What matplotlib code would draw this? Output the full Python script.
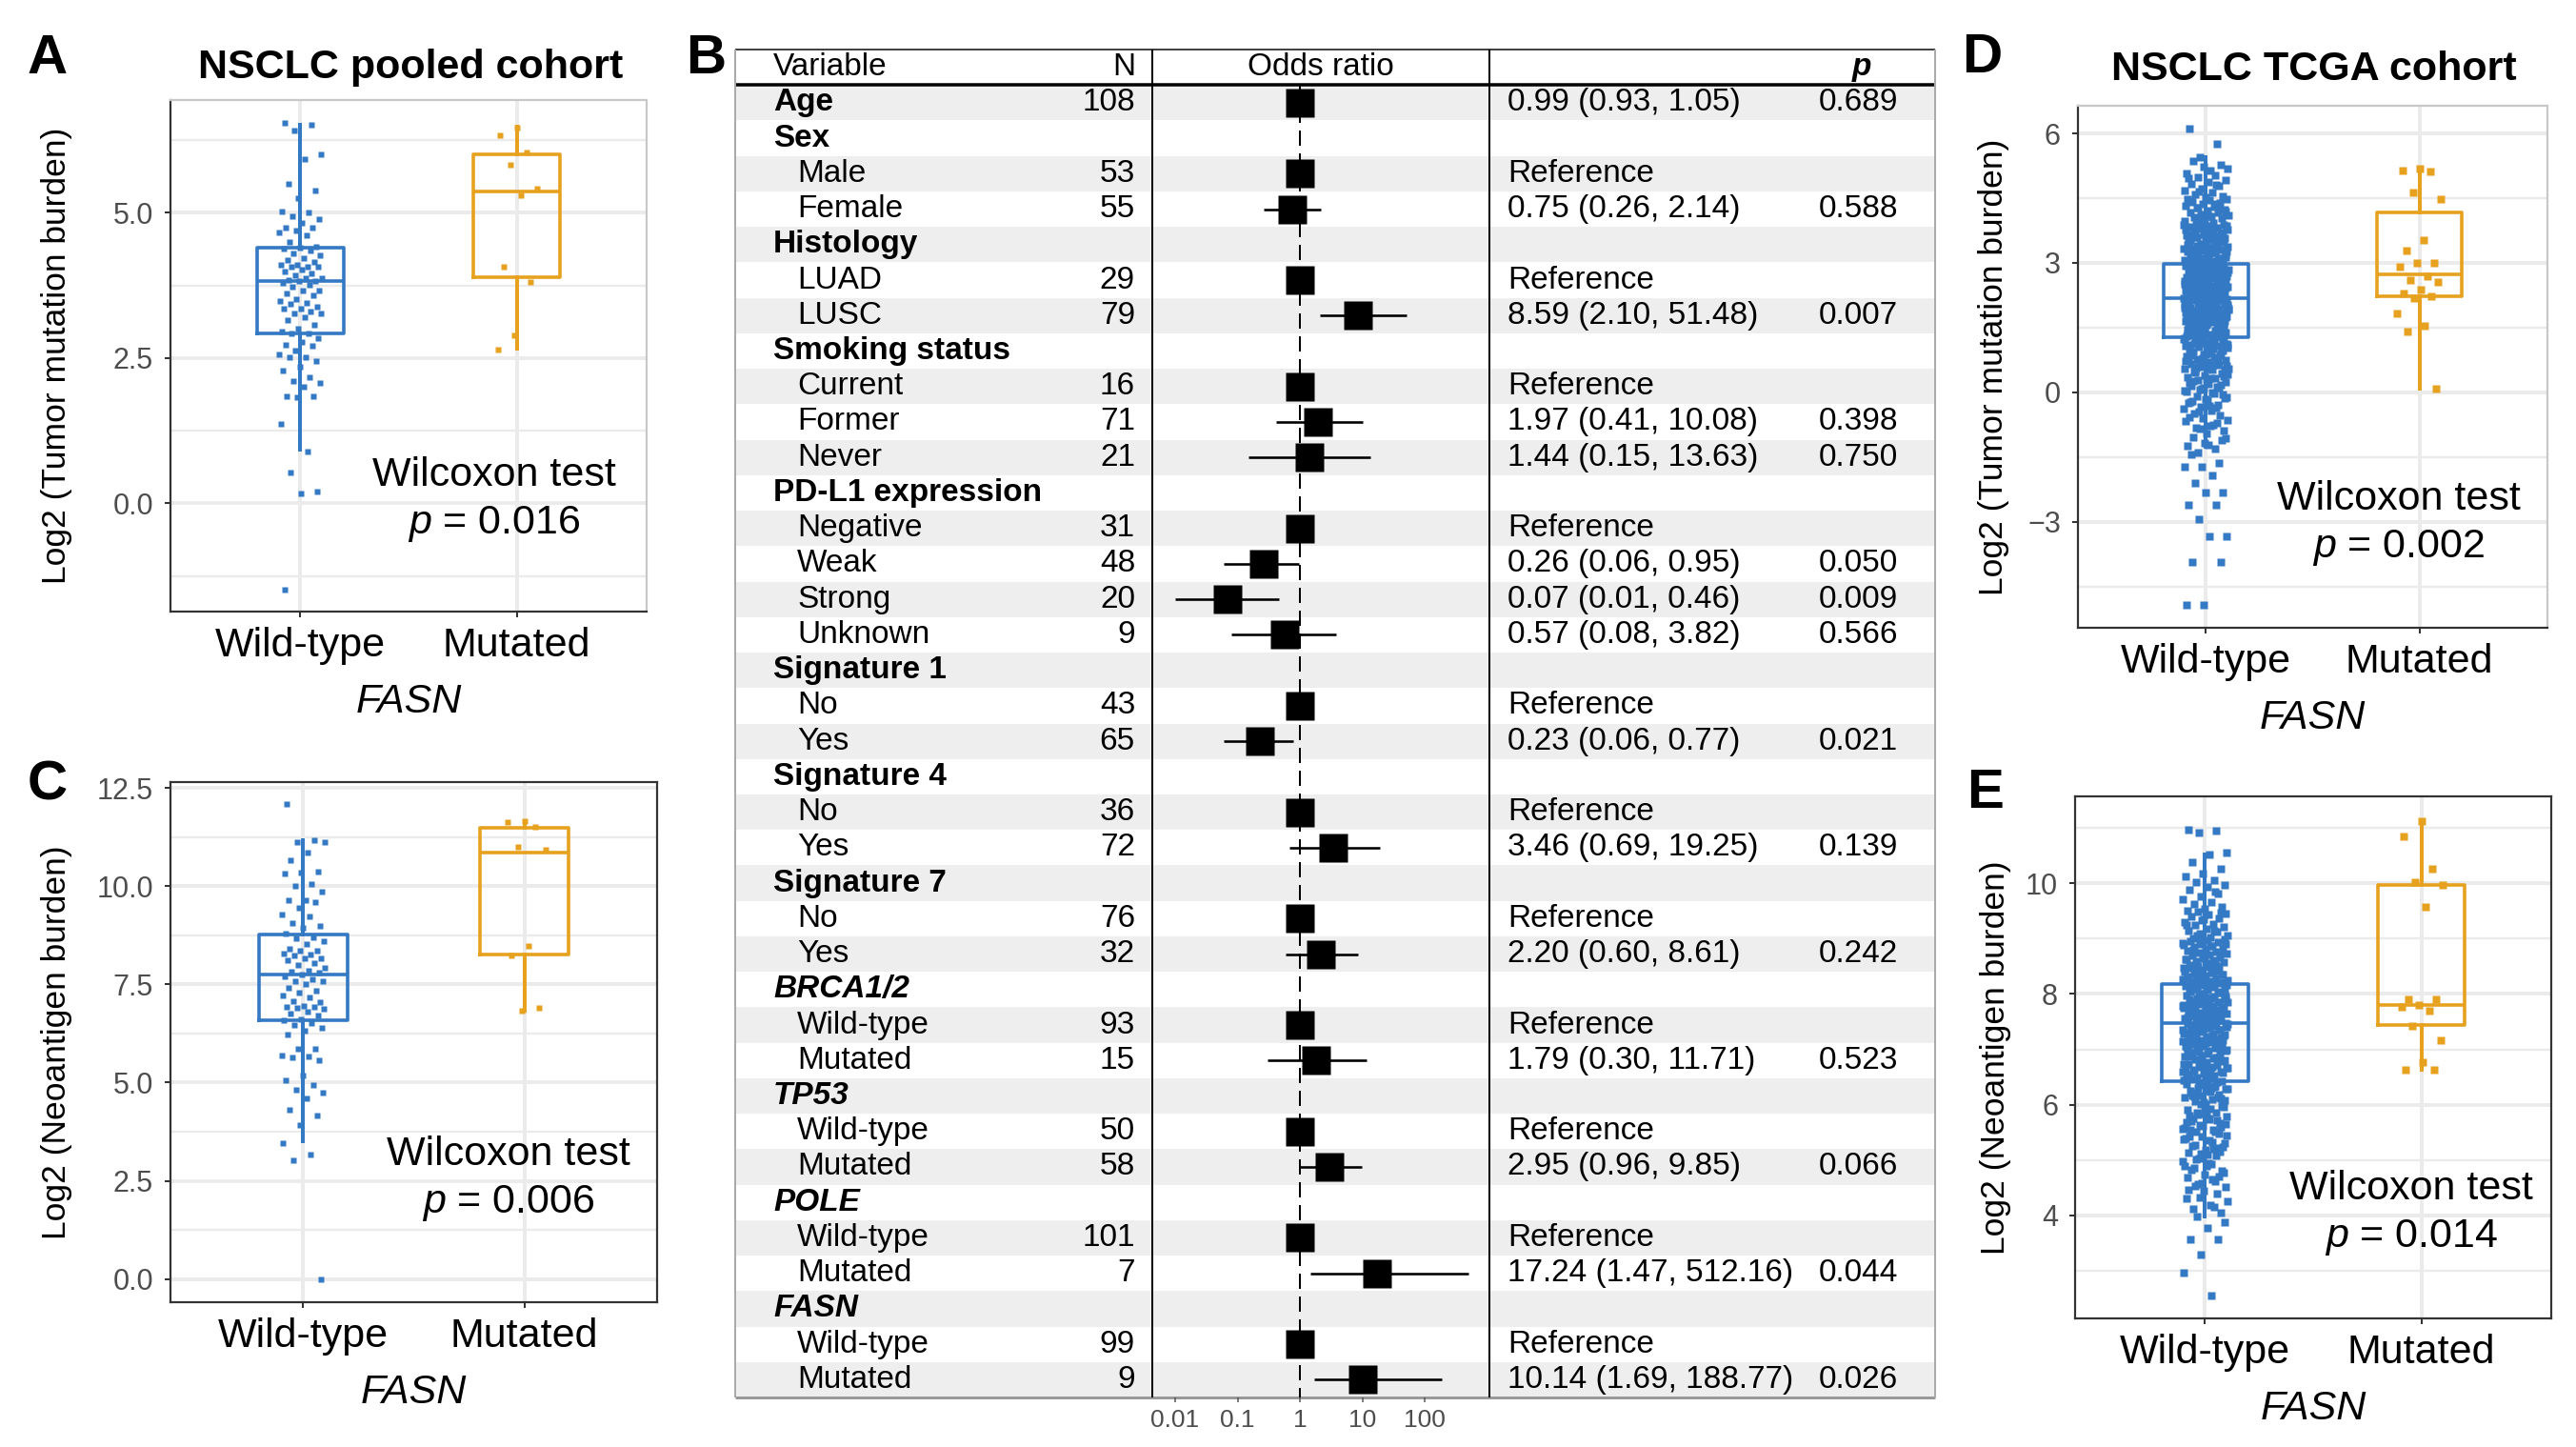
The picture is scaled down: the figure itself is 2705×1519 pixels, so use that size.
import numpy as np
import matplotlib.pyplot as plt
from matplotlib.patches import Rectangle

plt.rcParams['font.family'] = ['Liberation Sans', 'DejaVu Sans']
plt.rcParams['mathtext.fontset'] = 'custom'
plt.rcParams['mathtext.rm'] = 'Liberation Sans'
plt.rcParams['mathtext.it'] = 'Liberation Sans:italic'

W, H, DPI = 2705, 1519, 100
PT = 72 / DPI   # points per pixel

BLUE = '#3479c4'
ORANGE = '#e6a11f'
GRID = '#ebebeb'
TICKGREY = '#4d4d4d'

groups = ['Wild-type', 'Mutated']

# ---------------- panel A : pooled cohort, log2 TMB
a_wt = [6.54, 6.52, 6.41, 6.01, 5.92, 5.50, 5.38, 5.26, 5.02, 5.00, 4.94, 4.89, 4.82,
        4.74, 4.74, 4.70, 4.66, 4.62, 4.50, 4.42, 4.40, 4.38, 4.35, 4.30, 4.27, 4.22,
        4.18, 4.15, 4.11, 4.11, 4.08, 4.07, 4.07, 4.03, 3.99, 3.95, 3.92, 3.88, 3.87,
        3.85, 3.83, 3.83, 3.80, 3.76, 3.72, 3.67, 3.67, 3.62, 3.58, 3.52, 3.48, 3.45,
        3.43, 3.39, 3.35, 3.35, 3.31, 3.27, 3.27, 3.20, 3.15, 3.08, 3.00, 2.95, 2.92,
        2.92, 2.85, 2.78, 2.73, 2.71, 2.63, 2.56, 2.52, 2.51, 2.45, 2.35, 2.28, 2.17,
        2.11, 2.07, 2.01, 1.85, 1.85, 1.83, 1.37, 0.89, 0.53, 0.21, 0.17, -1.49]
a_mut = [6.46, 6.33, 6.04, 5.82, 5.42, 5.30, 4.08, 3.81, 2.89, 2.65]
# whislo, q1, median, q3, whishi
a_box = [(0.92, 2.93, 3.83, 4.40, 6.52), (2.66, 3.90, 5.37, 6.00, 6.48)]

# ---------------- panel C : pooled cohort, log2 neoantigen burden
c_wt = [12.10, 11.18, 11.12, 11.12, 10.86, 10.67, 10.38, 10.35, 10.32, 10.06, 10.00,
        9.86, 9.65, 9.65, 9.59, 9.45, 9.29, 9.23, 9.06, 9.00, 8.94, 8.80, 8.70, 8.68,
        8.60, 8.52, 8.41, 8.37, 8.35, 8.29, 8.25, 8.23, 8.17, 8.17, 8.11, 8.05, 7.99,
        7.92, 7.85, 7.82, 7.79, 7.76, 7.70, 7.64, 7.58, 7.58, 7.50, 7.42, 7.35, 7.29,
        7.22, 7.17, 7.08, 7.05, 6.96, 6.93, 6.93, 6.91, 6.88, 6.80, 6.76, 6.70, 6.62,
        6.58, 6.52, 6.46, 6.40, 6.32, 6.23, 5.87, 5.85, 5.70, 5.67, 5.64, 5.58, 5.19,
        5.05, 4.93, 4.81, 4.75, 4.60, 4.32, 4.16, 3.93, 3.46, 3.16, 3.02, 0.00]
c_mut = [11.65, 11.63, 11.51, 11.00, 10.92, 8.49, 8.23, 6.91, 6.82]
c_box = [(3.51, 6.58, 7.76, 8.76, 11.18), (6.82, 8.25, 10.86, 11.49, 11.65)]

# ---------------- panel D : TCGA cohort, log2 TMB
d_wt_text = """
6.10 5.75 5.45 5.18 5.15 5.35 5.28 5.22 5.08 5.02
4.98 4.93 4.88 4.84 4.79 4.72 4.68 4.63 4.59 4.55 4.52 4.96 4.81 4.66
4.48 4.45 4.42 4.39 4.36 4.33 4.31 4.27 4.24 4.22 4.18 4.16 4.13 4.11 4.08 4.05 4.03 4.01
4.47 4.37 4.29 4.19 4.09 4.44 4.26
3.98 3.96 3.93 3.91 3.89 3.86 3.84 3.81 3.79 3.77 3.74 3.72 3.69 3.67 3.65 3.62 3.60 3.58
3.55 3.53 3.51 3.97 3.88 3.82 3.76 3.70 3.64 3.57 3.52 3.94 3.85 3.73 3.63 3.54 3.90 3.78
3.66 3.59
3.49 3.47 3.44 3.42 3.40 3.38 3.35 3.33 3.31 3.28 3.26 3.24 3.21 3.19 3.17 3.14 3.12 3.10
3.07 3.05 3.03 3.01 3.48 3.43 3.37 3.32 3.27 3.22 3.16 3.11 3.06 3.02 3.46 3.39 3.30 3.23
3.15 3.08 3.45 3.34 3.25 3.18 3.09 3.04 3.41 3.29 3.20 3.13 3.00
2.99 2.97 2.95 2.93 2.91 2.89 2.87 2.85 2.83 2.81 2.79 2.77 2.75 2.73 2.71 2.69 2.67 2.65
2.63 2.61 2.59 2.57 2.55 2.53 2.51 2.98 2.94 2.90 2.86 2.82 2.78 2.74 2.70 2.66 2.62 2.58
2.54 2.50 2.96 2.88 2.80 2.72 2.64 2.56 2.92 2.84 2.76 2.68 2.60 2.52 2.97 2.85 2.73 2.61
2.55 2.90 2.78 2.66 2.58 2.95 2.81 2.69 2.63 2.87
2.49 2.47 2.45 2.43 2.41 2.39 2.37 2.35 2.33 2.31 2.29 2.27 2.25 2.23 2.21 2.19 2.17 2.15
2.13 2.11 2.09 2.07 2.05 2.03 2.01 2.48 2.44 2.40 2.36 2.32 2.28 2.24 2.20 2.16 2.12 2.08
2.04 2.00 2.46 2.38 2.30 2.22 2.14 2.06 2.42 2.34 2.26 2.18 2.10 2.02 2.47 2.35 2.23 2.11
2.05 2.40 2.28 2.16 2.08 2.45 2.31 2.19 2.13 2.37 2.25 2.03
1.99 1.97 1.95 1.93 1.91 1.89 1.87 1.85 1.83 1.81 1.79 1.77 1.75 1.73 1.71 1.69 1.67 1.65
1.63 1.61 1.59 1.57 1.55 1.53 1.51 1.98 1.94 1.90 1.86 1.82 1.78 1.74 1.70 1.66 1.62 1.58
1.54 1.50 1.96 1.88 1.80 1.72 1.64 1.56 1.92 1.84 1.76 1.68 1.60 1.52 1.97 1.85 1.73 1.61
1.55 1.90 1.78 1.66 1.58 1.95 1.81 1.69 1.63
1.49 1.46 1.43 1.41 1.38 1.35 1.33 1.30 1.27 1.25 1.22 1.19 1.17 1.14 1.11 1.09 1.06 1.03
1.01 1.48 1.42 1.36 1.29 1.23 1.16 1.10 1.04 1.45 1.39 1.31 1.24 1.18 1.12 1.05 1.47 1.37
1.28 1.20 1.13 1.07 1.44 1.32 1.21 1.08 1.02 1.40 1.26 1.15 1.00 1.34 1.24 1.11
0.98 0.95 0.91 0.88 0.84 0.81 0.77 0.74 0.70 0.67 0.63 0.60 0.56 0.53 0.51 0.97 0.89 0.82
0.75 0.68 0.61 0.54 0.93 0.86 0.79 0.72 0.65 0.58 0.52 0.96 0.85 0.76 0.64 0.55 0.90
0.48 0.44 0.40 0.36 0.32 0.28 0.24 0.20 0.16 0.12 0.08 0.04 0.01 0.46 0.38 0.30 0.22 0.14
0.06 0.42 0.34 0.26 0.18 0.10 0.02
-0.03 -0.08 -0.13 -0.18 -0.23 -0.28 -0.33 -0.38 -0.43 -0.48 -0.05 -0.15 -0.25 -0.35 -0.45
-0.10 -0.30 -0.20
-0.53 -0.60 -0.67 -0.74 -0.81 -0.88 -0.95 -0.57 -0.71 -0.85 -0.64 -0.78
-1.03 -1.10 -1.17 -1.24 -1.31 -1.38 -1.07 -1.21
-1.43 -1.63 -1.72 -1.72 -1.91 -2.10 -2.32 -2.32 -2.60 -2.60 -2.94 -3.33 -3.33 -3.92 -3.92
-4.93 -4.93
"""
d_wt = [float(v) for v in d_wt_text.split()]
d_mut = [5.18, 5.15, 5.12, 4.63, 4.48, 3.54, 3.28, 3.00, 3.00, 2.92, 2.69, 2.61, 2.56,
         2.39, 2.30, 2.22, 2.19, 1.83, 1.55, 1.41, 0.09]
d_box = [(-1.25, 1.28, 2.18, 2.97, 5.45), (0.09, 2.23, 2.74, 4.18, 5.18)]

# ---------------- panel E : TCGA cohort, log2 neoantigen burden
e_wt_text = """
10.97 10.95 10.92 10.55 10.52
10.38 10.27 10.18 10.12 10.06 10.02
9.97 9.93 9.88 9.82 9.77 9.71 9.66 9.62 9.58 9.54 9.51 9.85
9.49 9.46 9.43 9.40 9.37 9.33 9.30 9.27 9.24 9.21 9.18 9.15 9.12 9.09 9.06 9.03 9.01
9.47 9.35 9.25 9.14 9.05
8.99 8.97 8.95 8.93 8.91 8.89 8.87 8.85 8.83 8.81 8.79 8.77 8.75 8.73 8.71 8.69 8.67 8.65
8.63 8.61 8.59 8.57 8.55 8.53 8.51 8.98 8.92 8.86 8.80 8.74 8.68 8.62 8.56 8.50 8.90
8.49 8.47 8.45 8.43 8.41 8.39 8.37 8.35 8.33 8.31 8.29 8.27 8.25 8.23 8.21 8.19 8.17 8.15
8.13 8.11 8.09 8.07 8.05 8.03 8.01 8.48 8.44 8.40 8.36 8.32 8.28 8.24 8.20 8.16 8.12 8.08
8.04 8.00 8.46 8.38 8.30 8.22 8.14 8.06 8.42 8.34 8.26 8.18 8.10 8.02
7.99 7.97 7.95 7.93 7.91 7.89 7.87 7.85 7.83 7.81 7.79 7.77 7.75 7.73 7.71 7.69 7.67 7.65
7.63 7.61 7.59 7.57 7.55 7.53 7.51 7.98 7.94 7.90 7.86 7.82 7.78 7.74 7.70 7.66 7.62 7.58
7.54 7.50 7.96 7.88 7.80 7.72 7.64 7.56 7.92 7.84 7.76 7.68 7.60 7.52 7.97 7.85 7.73 7.61
7.55 7.90 7.78 7.66 7.58 7.95 7.81 7.69 7.63 7.87 7.75 7.53 7.83 7.71
7.49 7.47 7.45 7.43 7.41 7.39 7.37 7.35 7.33 7.31 7.29 7.27 7.25 7.23 7.21 7.19 7.17 7.15
7.13 7.11 7.09 7.07 7.05 7.03 7.01 7.48 7.44 7.40 7.36 7.32 7.28 7.24 7.20 7.16 7.12 7.08
7.04 7.00 7.46 7.38 7.30 7.22 7.14 7.06 7.42 7.34 7.26 7.18 7.10 7.02 7.47 7.35 7.23 7.11
7.05 7.40 7.28 7.16 7.08
6.99 6.97 6.94 6.92 6.89 6.87 6.84 6.82 6.79 6.77 6.74 6.72 6.69 6.67 6.64 6.62 6.59 6.57
6.54 6.52 6.50 6.98 6.93 6.88 6.83 6.78 6.73 6.68 6.63 6.58 6.53 6.96 6.86 6.76 6.66 6.56
6.91 6.81 6.71 6.61 6.51 6.95 6.80 6.65 6.55 6.85 6.70 6.60
6.49 6.46 6.43 6.40 6.37 6.34 6.31 6.28 6.25 6.22 6.19 6.16 6.13 6.10 6.07 6.04 6.01 6.47
6.41 6.35 6.29 6.23 6.17 6.11 6.05 6.44 6.32 6.20 6.08 6.38 6.26 6.14 6.02 6.45 6.30 6.15
5.98 5.94 5.90 5.86 5.82 5.78 5.74 5.70 5.66 5.62 5.58 5.54 5.51 5.96 5.88 5.80 5.72 5.64
5.56 5.92 5.76 5.60 5.84 5.68 5.52 5.85 5.65 5.75 5.55
5.48 5.43 5.38 5.33 5.28 5.23 5.18 5.13 5.08 5.03 5.45 5.35 5.25 5.15 5.05 5.40 5.20 5.01
5.30 5.10 5.42 5.22 5.12
4.98 4.92 4.86 4.80 4.74 4.68 4.62 4.56 4.51 4.95 4.83 4.71 4.59 4.89 4.65 4.53 4.77 4.90
4.47 4.40 4.33 4.26 4.19 4.12 4.05 4.44 4.30 4.15
3.98 3.88 3.77 3.56 3.56 3.29 2.97 2.55
"""
e_wt = [float(v) for v in e_wt_text.split()]
e_mut = [11.13, 10.85, 10.27, 10.02, 9.97, 9.57, 7.91, 7.91, 7.80, 7.76, 7.69, 7.42,
         7.17, 6.77, 6.63, 6.63]
e_box = [(3.98, 6.43, 7.48, 8.18, 10.52), (6.63, 7.44, 7.80, 9.97, 11.13)]

# ---------------- panel B : multivariable logistic regression
row_labels = ['Age', 'Sex', 'Male', 'Female', 'Histology', 'LUAD', 'LUSC', 'Smoking status',
              'Current', 'Former', 'Never', 'PD-L1 expression', 'Negative', 'Weak', 'Strong',
              'Unknown', 'Signature 1', 'No', 'Yes', 'Signature 4', 'No', 'Yes', 'Signature 7',
              'No', 'Yes', 'BRCA1/2', 'Wild-type', 'Mutated', 'TP53', 'Wild-type', 'Mutated',
              'POLE', 'Wild-type', 'Mutated', 'FASN', 'Wild-type', 'Mutated']
row_kind = ['head', 'head', 'sub', 'sub', 'head', 'sub', 'sub', 'head', 'sub', 'sub', 'sub',
            'head', 'sub', 'sub', 'sub', 'sub', 'head', 'sub', 'sub', 'head', 'sub', 'sub',
            'head', 'sub', 'sub', 'gene', 'sub', 'sub', 'gene', 'sub', 'sub', 'gene', 'sub',
            'sub', 'gene', 'sub', 'sub']
n_obs = [108, None, 53, 55, None, 29, 79, None, 16, 71, 21, None, 31, 48, 20, 9, None, 43, 65,
         None, 36, 72, None, 76, 32, None, 93, 15, None, 50, 58, None, 101, 7, None, 99, 9]
nan = np.nan
odds = [0.99, nan, 1, 0.75, nan, 1, 8.59, nan, 1, 1.97, 1.44, nan, 1, 0.26, 0.07, 0.57, nan,
        1, 0.23, nan, 1, 3.46, nan, 1, 2.20, nan, 1, 1.79, nan, 1, 2.95, nan, 1, 17.24, nan,
        1, 10.14]
ci_low = [0.93, nan, nan, 0.26, nan, nan, 2.10, nan, nan, 0.41, 0.15, nan, nan, 0.06, 0.01,
          0.08, nan, nan, 0.06, nan, nan, 0.69, nan, nan, 0.60, nan, nan, 0.30, nan, nan,
          0.96, nan, nan, 1.47, nan, nan, 1.69]
ci_high = [1.05, nan, nan, 2.14, nan, nan, 51.48, nan, nan, 10.08, 13.63, nan, nan, 0.95,
           0.46, 3.82, nan, nan, 0.77, nan, nan, 19.25, nan, nan, 8.61, nan, nan, 11.71, nan,
           nan, 9.85, nan, nan, 512.16, nan, nan, 188.77]
p_text = ['0.689', '', '', '0.588', '', '', '0.007', '', '', '0.398', '0.750', '', '',
          '0.050', '0.009', '0.566', '', '', '0.021', '', '', '0.139', '', '', '0.242', '',
          '', '0.523', '', '', '0.066', '', '', '0.044', '', '', '0.026']
or_ticks = [0.01, 0.1, 1, 10, 100]
or_ticklabels = ['0.01', '0.1', '1', '10', '100']


def rect_px(l, t, r, b):
    return [l / W, 1 - b / H, (r - l) / W, (b - t) / H]


def jitter(n, width, phase):
    k = np.arange(n)
    return ((k * 0.6180339887 + phase) % 1.0 - 0.5) * 2 * width


def fig_text(x, y, s, **kw):
    fig.text(x / W, 1 - y / H, s, **kw)


def box_panel(ax, wt, mut, stats, ylim, major, minor, labels, light_frame, ms, jw):
    ax.set_xlim(0.4, 2.6)
    ax.set_ylim(*ylim)
    for y in minor:
        ax.axhline(y, color=GRID, lw=2.4 * PT, zorder=0)
    for y in major:
        ax.axhline(y, color=GRID, lw=4 * PT, zorder=0)
    for x in (1, 2):
        ax.axvline(x, color=GRID, lw=4 * PT, zorder=0)
    colors = [BLUE, ORANGE]
    for i, (s, c) in enumerate(zip(stats, colors)):
        st = dict(whislo=s[0], q1=s[1], med=s[2], q3=s[3], whishi=s[4], fliers=[])
        ax.bxp([st], positions=[i + 1], widths=0.4, showfliers=False, showcaps=False,
               boxprops=dict(color=c, lw=3.6 * PT), medianprops=dict(color=c, lw=3.6 * PT),
               whiskerprops=dict(color=c, lw=4 * PT), manage_ticks=False, zorder=2)
    for i, (vals, c) in enumerate(zip([wt, mut], colors)):
        vals = np.asarray(vals)
        xs = i + 1 + jitter(len(vals), jw, 0.13 + 0.37 * i)
        ax.plot(xs, vals, 's', color=c, ms=ms, mec='none', zorder=3)
    ax.set_yticks(major)
    ax.set_yticklabels(labels)
    ax.set_xticks([1, 2])
    ax.set_xticklabels(groups)
    ax.tick_params(axis='y', labelsize=22, labelcolor=TICKGREY, length=6 * PT,
                   width=2 * PT, color='#333333', pad=12 * PT)
    ax.tick_params(axis='x', labelsize=31, labelcolor='black', length=6 * PT,
                   width=2 * PT, color='#333333', pad=10 * PT)
    ax.set_xlabel('FASN', style='italic', fontsize=31, labelpad=19 * PT)
    for side in ('left', 'bottom', 'top', 'right'):
        ax.spines[side].set_linewidth(2.2 * PT)
        ax.spines[side].set_color('#333333')
    if light_frame:
        ax.spines['top'].set_color('#c8c8c8')
        ax.spines['right'].set_color('#c8c8c8')


fig = plt.figure(figsize=(W / DPI, H / DPI), dpi=DPI)

# ---- A
axA = fig.add_axes(rect_px(179, 105, 679, 642))
box_panel(axA, a_wt, a_mut, a_box, (-1.86, 6.94), [0, 2.5, 5.0], [-1.25, 1.25, 3.75, 6.25],
          ['0.0', '2.5', '5.0'], True, 3.9, 0.1)
# ---- C
axC = fig.add_axes(rect_px(179, 821, 690, 1367))
box_panel(axC, c_wt, c_mut, c_box, (-0.59, 12.65), [0, 2.5, 5.0, 7.5, 10.0, 12.5],
          [1.25, 3.75, 6.25, 8.75, 11.25], ['0.0', '2.5', '5.0', '7.5', '10.0', '12.5'],
          False, 3.9, 0.1)
# ---- D
axD = fig.add_axes(rect_px(2182, 111, 2675, 659))
box_panel(axD, d_wt, d_mut, d_box, (-5.45, 6.64), [-3, 0, 3, 6], [-4.5, -1.5, 1.5, 4.5],
          ['\u22123', '0', '3', '6'], True, 5.2, 0.105)
# ---- E
axE = fig.add_axes(rect_px(2179, 836, 2679, 1384))
box_panel(axE, e_wt, e_mut, e_box, (2.14, 11.57), [4, 6, 8, 10], [3, 5, 7, 9, 11],
          ['4', '6', '8', '10'], False, 5.2, 0.105)

# y labels, titles, Wilcoxon annotations
fig_text(60, 373, 'Log2 (Tumor mutation burden)', rotation=90, ha='center', va='center', fontsize=25.5)
fig_text(60, 1094, 'Log2 (Neoantigen burden)', rotation=90, ha='center', va='center', fontsize=25.5)
fig_text(2093, 385, 'Log2 (Tumor mutation burden)', rotation=90, ha='center', va='center', fontsize=25.5)
fig_text(2095, 1110, 'Log2 (Neoantigen burden)', rotation=90, ha='center', va='center', fontsize=25.5)

fig_text(431, 71, 'NSCLC pooled cohort', ha='center', va='center', fontsize=31, fontweight='bold')
fig_text(2430, 73, 'NSCLC TCGA cohort', ha='center', va='center', fontsize=31, fontweight='bold')

for (x, y, pv) in [(519, 499, '0.016'), (534, 1212, '0.006'), (2519, 524, '0.002'), (2532, 1248, '0.014')]:
    fig_text(x, y, 'Wilcoxon test', ha='center', va='center', fontsize=31)
    fig_text(x, y + 51, r'$\mathit{p}$ = ' + pv, ha='center', va='center', fontsize=31)

for (x, y, s) in [(29, 62, 'A'), (720, 62, 'B'), (29, 825, 'C'), (2060, 61, 'D'), (2065, 833, 'E')]:
    fig_text(x, y, s, ha='left', va='center', fontsize=42, fontweight='bold')

# ---- B : table + forest
TL, TR, TT, TB = 772, 2032, 52, 1467
C1, C2 = 1210, 1564
nrow = len(row_labels)
axT = fig.add_axes(rect_px(TL, TT, TR, TB))
axT.set_xlim(TL, TR)
axT.set_ylim(nrow - 0.5, -1.5)
axT.axis('off')
for i in range(0, nrow, 2):
    axT.add_patch(Rectangle((TL, i - 0.5), TR - TL, 1, fc='#eeeeee', ec='none', zorder=0))

FS = 24
axT.text(812, -1, 'Variable', ha='left', va='center', fontsize=FS)
axT.text(1192, -1, 'N', ha='right', va='center', fontsize=FS)
axT.text(1387, -1, 'Odds ratio', ha='center', va='center', fontsize=FS)
axT.text(1955, -1, 'p', ha='center', va='center', fontsize=FS, fontweight='bold', style='italic')

for i in range(nrow):
    kind = row_kind[i]
    if kind == 'sub':
        axT.text(837, i, row_labels[i], ha='left', va='center', fontsize=FS)
    else:
        axT.text(812, i, row_labels[i], ha='left', va='center', fontsize=FS, fontweight='bold',
                 style='italic' if kind == 'gene' else 'normal')
    if n_obs[i] is not None:
        axT.text(1192, i, str(n_obs[i]), ha='right', va='center', fontsize=FS)
    if not np.isnan(odds[i]):
        if np.isnan(ci_low[i]):
            s = 'Reference'
        else:
            s = '%.2f (%.2f, %.2f)' % (odds[i], ci_low[i], ci_high[i])
        axT.text(1583, i, s, ha='left', va='center', fontsize=FS)
    if p_text[i]:
        axT.text(1910, i, p_text[i], ha='left', va='center', fontsize=FS)

lkw = dict(clip_on=False, solid_capstyle='butt')
axT.plot([TL, TR], [-1.5, -1.5], color='#444444', lw=2 * PT, **lkw)
axT.plot([TL, TR], [-0.5, -0.5], color='black', lw=3.5 * PT, **lkw)
axT.plot([TL, TR], [nrow - 0.5, nrow - 0.5], color='#999999', lw=3 * PT, **lkw)
axT.plot([TL, TL], [-1.5, nrow - 0.5], color='#aaaaaa', lw=2 * PT, **lkw)
axT.plot([TR, TR], [-1.5, nrow - 0.5], color='#aaaaaa', lw=2 * PT, **lkw)
for cx in (C1, C2):
    axT.plot([cx, cx], [-1.5, nrow - 0.5], color='black', lw=2 * PT, **lkw)

ONE_PX, DEC_PX = 1365, 65.5
axF = fig.add_axes(rect_px(C1, TT, C2, TB))
axF.set_facecolor('none')
axF.set_xscale('log')
axF.set_xlim(10 ** ((C1 - ONE_PX) / DEC_PX), 10 ** ((C2 - ONE_PX) / DEC_PX))
axF.set_ylim(nrow - 0.5, -1.5)
for sp in axF.spines.values():
    sp.set_visible(False)
axF.plot([1, 1], [-0.5, nrow - 0.5], color='black', lw=2 * PT,
         ls=(0, (8, 4)), zorder=1)
rows = np.arange(nrow)
odds_a = np.array(odds, float)
lo_a = np.array(ci_low, float)
hi_a = np.array(ci_high, float)
has_ci = ~np.isnan(lo_a)
axF.hlines(rows[has_ci], lo_a[has_ci], hi_a[has_ci], color='black', lw=2.6 * PT, zorder=2)
has_or = ~np.isnan(odds_a)
axF.plot(odds_a[has_or], rows[has_or], 's', color='black', ms=30 * PT, mec='none', zorder=3)
axF.set_yticks([])
axF.set_xticks(or_ticks)
axF.set_xticklabels(or_ticklabels)
axF.minorticks_off()
axF.tick_params(axis='x', labelsize=19, labelcolor=TICKGREY, length=5 * PT, width=1.5 * PT,
                color='#555555', pad=7 * PT)

fig.savefig('out.png', dpi=DPI)
